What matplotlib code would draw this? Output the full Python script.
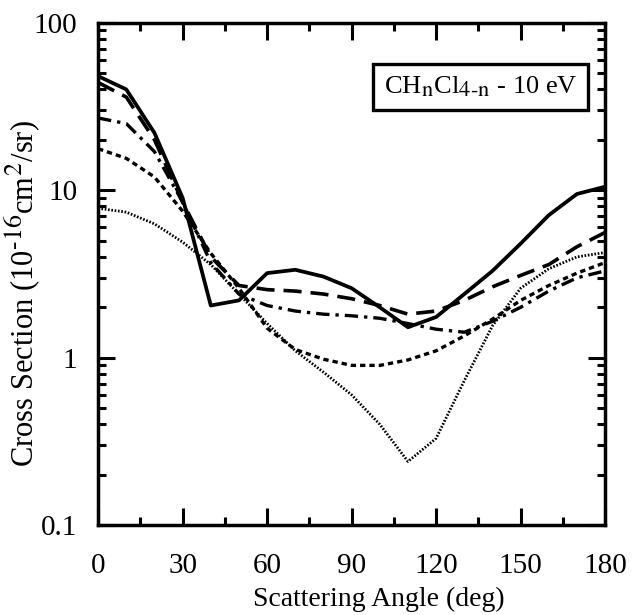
import matplotlib
matplotlib.use('Agg')
import matplotlib.pyplot as plt
import matplotlib._mathtext as mt
from matplotlib.ticker import MultipleLocator, LogLocator, NullFormatter, FixedLocator

plt.rcParams['font.family'] = ['Liberation Serif', 'DejaVu Serif']
plt.rcParams['mathtext.fontset'] = 'stix'
# the original typesetting uses big sub/superscripts
mt.SHRINK_FACTOR = 0.85

angles = [0, 10, 20, 30, 40, 50, 60, 70, 80, 90, 100, 110, 120, 130, 140, 150, 160, 170, 180]

# CH_nCl_4-n curves at 10 eV
solid = [48, 40, 22, 9.0, 2.05, 2.2, 3.2, 3.35, 3.05, 2.6, 2.0, 1.52, 1.75, 2.4, 3.3, 4.8, 7.1, 9.5, 10.5]
dashed = [44, 36, 20, 8.5, 4.0, 2.7, 2.55, 2.5, 2.4, 2.25, 2.05, 1.82, 1.9, 2.2, 2.65, 3.1, 3.6, 4.6, 5.6]
dashdot = [27, 25, 17, 8.5, 3.7, 2.4, 2.05, 1.9, 1.82, 1.78, 1.72, 1.6, 1.48, 1.42, 1.65, 2.0, 2.5, 3.0, 3.3]
shortdash = [17.7, 15.5, 12, 7.5, 4.2, 2.6, 1.5, 1.12, 0.98, 0.9, 0.9, 0.97, 1.1, 1.35, 1.7, 2.2, 2.7, 3.2, 3.7]
dotted = [7.8, 7.4, 6.3, 4.9, 3.6, 2.4, 1.6, 1.1, 0.82, 0.6, 0.4, 0.24, 0.33, 0.73, 1.55, 2.6, 3.4, 4.0, 4.25]

fig = plt.figure(figsize=(6.33, 6.15), dpi=100)
ax = fig.add_axes([0.155, 0.146, 0.801, 0.817])

ax.plot(angles, solid, color='black', lw=2.7, ls='-')
ax.plot(angles, dashed, color='black', lw=2.6, ls=(0, (5, 2.5)))
ax.plot(angles, dashdot, color='black', lw=2.4, ls=(0, (4, 1.8, 1, 1.8)))
ax.plot(angles, shortdash, color='black', lw=2.4, ls=(0, (1.6, 1.2)))
ax.plot(angles, dotted, color='black', lw=2.0, ls=(0, (0.6, 0.6)))

ax.set_yscale('log')
ax.set_xlim(0, 180)
ax.set_ylim(0.1, 100)
ax.xaxis.set_major_locator(MultipleLocator(30))
ax.xaxis.set_minor_locator(MultipleLocator(15))
ax.yaxis.set_major_locator(FixedLocator([0.1, 1, 10, 100]))
ax.yaxis.set_minor_locator(LogLocator(base=10, subs=range(2, 10)))
ax.yaxis.set_minor_formatter(NullFormatter())
ax.set_yticklabels(['0.1', '1', '10', '100'])

ax.tick_params(which='both', direction='in', top=True, right=True, labelsize=21, width=2.2)
ax.tick_params(axis='x', which='major', pad=20)
ax.tick_params(axis='y', which='major', pad=15)
ax.tick_params(which='major', length=12)
ax.tick_params(which='minor', length=6)
for s in ax.spines.values():
    s.set_linewidth(2.5)

ax.set_xlabel('Scattering Angle (deg)', fontsize=20)
ax.xaxis.set_label_coords(0.554, -0.122)
ax.set_ylabel(r'Cross Section (10$^{\text{-}16}$cm$^{2}$/sr)', fontsize=22)
ax.yaxis.set_label_coords(-0.108, 0.462)

ax.text(0.563, 0.872, r'CH$_\mathrm{n}$Cl$_\mathrm{4\text{-}n}$ - 10 eV', transform=ax.transAxes,
        fontsize=19, va='center', ha='left',
        bbox=dict(boxstyle='square,pad=0.4', fc='white', ec='black', lw=2.4))

fig.savefig('out.png', dpi=100)
